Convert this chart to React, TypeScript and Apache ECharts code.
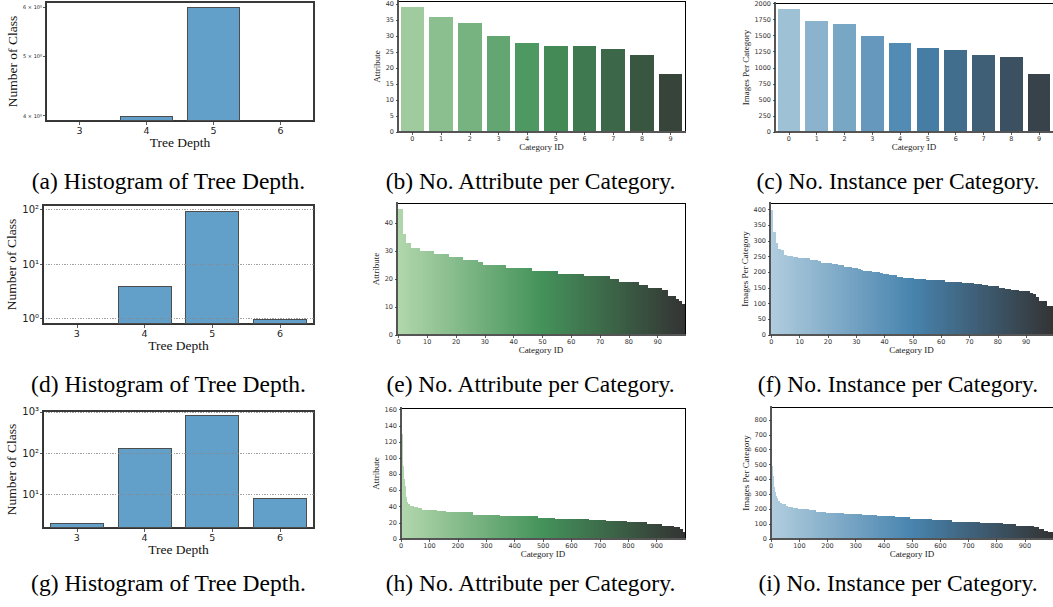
import React, { useEffect, useRef } from "react";
import * as echarts from "echarts";

const SERIF = "'Liberation Serif', 'Times New Roman', serif";
const SANS = "'DejaVu Sans', 'Liberation Sans', sans-serif";

// ---------------- data ----------------
const depthLabels = ["3", "4", "5", "6"];
const depthCount10: (number | null)[] = [null, 4, 6, null];
const depthCount100: (number | null)[] = [null, 4, 95, 1];
const depthCount1000: (number | null)[] = [2, 130, 860, 8];

const depthTicks10 = [4, 5, 6];
const depthTicks100 = [1, 10, 100];
const depthTicks1000 = [10, 100, 1000];

const cat10 = ["0", "1", "2", "3", "4", "5", "6", "7", "8", "9"];
const attr10 = [39, 36, 34, 30, 28, 27, 27, 26, 24, 18];
const inst10 = [1915, 1730, 1685, 1500, 1390, 1315, 1280, 1205, 1175, 910];

// step runs: [value, number of consecutive categories]
const attr100Runs: [number, number][] = [
  [45, 2], [36, 1], [33, 2], [31, 3], [30, 5], [29, 5], [28, 5], [27, 5], [26, 2], [25, 8],
  [24, 9], [23, 9], [22, 9], [21, 9], [20, 3], [19, 7], [18, 3], [17, 5], [16, 2], [14, 3],
  [13, 1], [12, 1], [11, 1],
];
const inst100Runs: [number, number][] = [
  [400, 1], [330, 1], [295, 1], [275, 1], [272, 1], [256, 1], [253, 2], [250, 2], [247, 1],
  [244, 3], [240, 3], [235, 1], [231, 4], [228, 2], [224, 2], [218, 3], [215, 2], [212, 1],
  [208, 1], [204, 3], [201, 3], [198, 1], [195, 2], [192, 3], [186, 2], [183, 4], [180, 4],
  [177, 6], [174, 1], [170, 6], [166, 4], [163, 3], [160, 2], [157, 4], [151, 2], [148, 2],
  [145, 3], [141, 4], [135, 1], [132, 1], [122, 1], [110, 3], [93, 2],
];
const attr1000Runs: [number, number][] = [
  [130, 5], [90, 4], [74, 3], [66, 4], [52, 3], [46, 4], [43, 6], [41, 14], [39, 14], [38, 16],
  [36, 53], [35, 32], [33, 96], [30, 94], [28, 132], [26, 62], [25, 117], [23, 63], [22, 72],
  [21, 71], [19, 23], [18, 30], [16, 41], [15, 21], [12, 10], [9, 10],
];
const inst1000Runs: [number, number][] = [
  [630, 3], [490, 4], [422, 3], [347, 4], [313, 3], [288, 4], [273, 4], [255, 7], [241, 7],
  [233, 14], [221, 7], [215, 18], [208, 17], [203, 19], [199, 18], [192, 28], [183, 32],
  [177, 64], [168, 65], [158, 53], [152, 65], [145, 53], [136, 76], [127, 71], [116, 100],
  [107, 82], [98, 47], [89, 65], [80, 17], [66, 18], [57, 12], [45, 20],
];

const ticksAttr10 = [0, 5, 10, 15, 20, 25, 30, 35, 40];
const ticksInst10 = [0, 250, 500, 750, 1000, 1250, 1500, 1750, 2000];
const ticksAttr100 = [0, 10, 20, 30, 40];
const ticksInst100 = [0, 50, 100, 150, 200, 250, 300, 350, 400];
const ticksAttr1000 = [0, 20, 40, 60, 80, 100, 120, 140, 160];
const ticksInst1000 = [0, 100, 200, 300, 400, 500, 600, 700, 800];

const captionRows = [
  ["(a) Histogram of Tree Depth.", "(b) No. Attribute per Category.", "(c) No. Instance per Category."],
  ["(d) Histogram of Tree Depth.", "(e) No. Attribute per Category.", "(f) No. Instance per Category."],
  ["(g) Histogram of Tree Depth.", "(h) No. Attribute per Category.", "(i) No. Instance per Category."],
];

// ---------------- helpers ----------------
const expandRuns = (runs: [number, number][]) =>
  runs.flatMap(([v, n]) => Array(n).fill(v) as number[]);
const indexLabels = (n: number) => Array.from({ length: n }, (_, i) => String(i));

const GREEN_STOPS = [[174, 222, 167], [55, 160, 85], [51, 51, 51]];
const BLUE_STOPS = [[171, 208, 230], [55, 135, 192], [51, 51, 51]];

function rgbToHls(r: number, g: number, b: number) {
  const maxc = Math.max(r, g, b), minc = Math.min(r, g, b);
  const l = (maxc + minc) / 2;
  if (maxc === minc) return [0, l, 0];
  const rc = maxc - minc;
  const s = l <= 0.5 ? rc / (maxc + minc) : rc / (2 - maxc - minc);
  const rr = (maxc - r) / rc, gg = (maxc - g) / rc, bb = (maxc - b) / rc;
  let h;
  if (r === maxc) h = bb - gg;
  else if (g === maxc) h = 2 + rr - bb;
  else h = 4 + gg - rr;
  h = ((h / 6) % 1 + 1) % 1;
  return [h, l, s];
}
function hv(m1: number, m2: number, hue: number) {
  hue = ((hue % 1) + 1) % 1;
  if (hue < 1 / 6) return m1 + (m2 - m1) * hue * 6;
  if (hue < 0.5) return m2;
  if (hue < 2 / 3) return m1 + (m2 - m1) * (2 / 3 - hue) * 6;
  return m1;
}
function hlsToRgb(h: number, l: number, s: number) {
  if (s === 0) return [l, l, l];
  const m2 = l <= 0.5 ? l * (1 + s) : l + s - l * s;
  const m1 = 2 * l - m2;
  return [hv(m1, m2, h + 1 / 3), hv(m1, m2, h), hv(m1, m2, h - 1 / 3)];
}
// blended light -> mid -> #333 palette, desaturated like seaborn bars; end colours skipped
function darkPalette(stops: number[][], n: number) {
  const out: string[] = [];
  const m = n + 2;
  for (let i = 1; i <= n; i++) {
    const t = i / (m - 1);
    const pos = t * (stops.length - 1);
    const k = Math.min(stops.length - 2, Math.floor(pos));
    const f = pos - k;
    const c = [0, 1, 2].map((j) => (stops[k][j] + (stops[k + 1][j] - stops[k][j]) * f) / 255);
    const [h, l, s] = rgbToHls(c[0], c[1], c[2]);
    const [r, g, b] = hlsToRgb(h, l, s * 0.75);
    out.push(`rgb(${Math.round(r * 255)},${Math.round(g * 255)},${Math.round(b * 255)})`);
  }
  return out;
}

const SUP: Record<string, string> = { "0": "⁰", "1": "¹", "2": "²", "3": "³", "4": "⁴" };
const powLabel = (v: number) => "10" + SUP[String(Math.round(Math.log10(v)))];

const grids = [
  { left: 46, top: 2, width: 268, height: 119 },
  { left: 398, top: 1, width: 287, height: 131 },
  { left: 775, top: 2, width: 280, height: 130 },
  { left: 43, top: 205, width: 271, height: 119 },
  { left: 397, top: 203, width: 288, height: 132 },
  { left: 770, top: 203, width: 285, height: 132 },
  { left: 43, top: 411, width: 271, height: 117 },
  { left: 401, top: 408, width: 284, height: 131 },
  { left: 771, top: 407, width: 284, height: 132 },
];

function buildOption() {
  const xAxes: any[] = [];
  const yAxes: any[] = [];
  const series: any[] = [];

  const histo = (
    gi: number, data: (number | null)[], min: number, max: number, start: number,
    ticks: number[], fmt: (v: number) => string, split: boolean, labelSize: number
  ) => {
    xAxes.push({
      type: "category", gridIndex: gi, data: depthLabels, z: 5,
      axisLine: { show: true, onZero: false, lineStyle: { color: "#333", width: 1.2 } },
      axisTick: { show: true, alignWithLabel: true, length: 3.5, lineStyle: { color: "#333", width: 0.8 } },
      axisLabel: { color: "#222", fontFamily: SANS, fontSize: 9.5, margin: 4 },
      name: "Tree Depth", nameLocation: "middle", nameGap: 14,
      nameTextStyle: { fontFamily: SERIF, fontSize: 13.5, color: "#111" },
    });
    yAxes.push({
      type: "log", logBase: 10, gridIndex: gi, min, max, startValue: start, z: 5,
      axisLine: { show: true, lineStyle: { color: "#333", width: 1.2 } },
      axisTick: { show: true, length: 3, customValues: ticks, lineStyle: { color: "#333", width: 0.8 } },
      axisLabel: { customValues: ticks, formatter: fmt, color: "#222", fontFamily: SANS, fontSize: labelSize, margin: 4 },
      splitLine: { show: split, lineStyle: { type: "dotted", color: "#888", width: 0.8 } },
      minorTick: { show: false },
      name: "Number of Class", nameLocation: "middle", nameGap: gi === 0 ? 25 : 22.5,
      nameTextStyle: { fontFamily: SERIF, fontSize: 13.5, color: "#111" },
    });
    series.push({
      type: "bar", xAxisIndex: gi, yAxisIndex: gi, data, barWidth: "80%", clip: true,
      itemStyle: { color: "#62a0ca", borderColor: "#4d4d4d", borderWidth: 1.1 },
    });
  };

  const bars = (
    gi: number, cats: string[], values: number[], colors: string[], max: number,
    ticks: number[], yName: string, yGap: number, labelInterval: number, barWidth: string
  ) => {
    xAxes.push({
      type: "category", gridIndex: gi, data: cats, z: 5,
      axisLine: { show: true, onZero: false, lineStyle: { color: "#555", width: 2 } },
      axisTick: { show: true, alignWithLabel: true, interval: labelInterval, length: 2.5, lineStyle: { color: "#333", width: 0.8 } },
      axisLabel: { interval: labelInterval, color: "#333", fontFamily: SANS, fontSize: 6.5, margin: 3 },
      name: "Category ID", nameLocation: "middle", nameGap: 9.5,
      nameTextStyle: { fontFamily: SERIF, fontSize: 9, color: "#222" },
    });
    yAxes.push({
      type: "value", gridIndex: gi, min: 0, max, z: 5,
      axisLine: { show: true, lineStyle: { color: "#555", width: 2 } },
      axisTick: { show: true, length: 2.5, customValues: ticks, lineStyle: { color: "#333", width: 0.8 } },
      axisLabel: { customValues: ticks, formatter: (v: number) => String(v), color: "#333", fontFamily: SANS, fontSize: 6.5, margin: 4 },
      splitLine: { show: false },
      name: yName, nameLocation: "middle", nameGap: yGap,
      nameTextStyle: { fontFamily: SERIF, fontSize: 9, color: "#222" },
    });
    series.push({
      type: "bar", xAxisIndex: gi, yAxisIndex: gi, barWidth, large: false, clip: true,
      data: values.map((v, i) => ({ value: v, itemStyle: { color: colors[i] } })),
    });
  };

  const attr100 = expandRuns(attr100Runs);
  const inst100 = expandRuns(inst100Runs);
  const attr1000 = expandRuns(attr1000Runs);
  const inst1000 = expandRuns(inst1000Runs);

  histo(0, depthCount10, 3.92, 6.11, 1, depthTicks10, (v) => `${v} × 10⁰`, false, 5);
  bars(1, cat10, attr10, darkPalette(GREEN_STOPS, 10), 41, ticksAttr10, "Attribute", 13.5, 0, "82%");
  bars(2, cat10, inst10, darkPalette(BLUE_STOPS, 10), 2005, ticksInst10, "Images Per Category", 20.5, 0, "82%");
  histo(3, depthCount100, 0.8, 120, 0.5, depthTicks100, powLabel, true, 10);
  bars(4, indexLabels(100), attr100, darkPalette(GREEN_STOPS, 100), 47.25, ticksAttr100, "Attribute", 12.5, 9, "100%");
  bars(5, indexLabels(100), inst100, darkPalette(BLUE_STOPS, 100), 421, ticksInst100, "Images Per Category", 15.5, 9, "100%");
  histo(6, depthCount1000, 1.52, 1050, 1, depthTicks1000, powLabel, true, 10);
  bars(7, indexLabels(1000), attr1000, darkPalette(GREEN_STOPS, 1000), 162, ticksAttr1000, "Attribute", 17.5, 99, "100%");
  bars(8, indexLabels(1000), inst1000, darkPalette(BLUE_STOPS, 1000), 887, ticksInst1000, "Images Per Category", 16.5, 99, "100%");

  const capX = [168.5, 530.5, 898];
  const capY = [181, 384, 583];
  const graphic: any[] = [];
  captionRows.forEach((row, r) =>
    row.forEach((text, c) =>
      graphic.push({
        type: "text", x: capX[c], y: capY[r], silent: true,
        style: { text, fontFamily: SERIF, fontSize: 23.5, fill: "#000", align: "center", verticalAlign: "middle" },
      })
    )
  );

  return {
    animation: false,
    backgroundColor: "#fff",
    grid: grids.map((g, i) => ({
      ...g, show: true, containLabel: false,
      borderColor: i % 3 === 0 ? "#3a3a3a" : "#000",
      borderWidth: i % 3 === 0 ? 1.2 : 1,
    })),
    xAxis: xAxes,
    yAxis: yAxes,
    series,
    graphic,
  };
}

export default function App() {
  const ref = useRef<HTMLDivElement>(null);
  useEffect(() => {
    document.body.style.margin = "0";
    const chart = echarts.init(ref.current!, undefined, { renderer: "svg" });
    chart.setOption(buildOption() as any);
    return () => chart.dispose();
  }, []);
  return (
    <div style={{ width: 1053, height: 607, overflow: "hidden", background: "#fff" }}>
      <style>{"#fig-root svg path { shape-rendering: crispEdges; }"}</style>
      <div id="fig-root" ref={ref} style={{ width: 1053, height: 607 }} />
    </div>
  );
}
